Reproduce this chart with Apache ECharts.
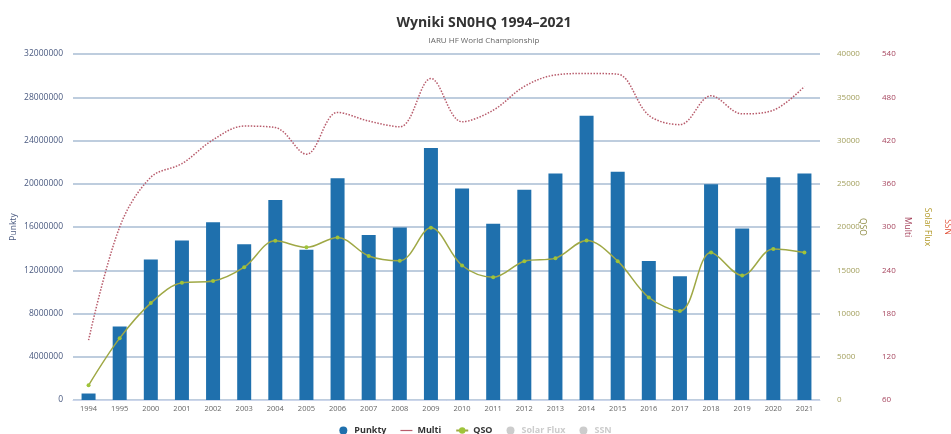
<!DOCTYPE html>
<html>
<head>
<meta charset="utf-8">
<script src="https://cdn.jsdelivr.net/npm/echarts@6/dist/echarts.min.js"></script>
<style>
  html, body { margin: 0; padding: 0; background: #fff; }
  #chart { width: 951px; height: 434px; }
</style>
</head>
<body>
<div id="chart"></div>
<script>
// lata startów
const years = ['1994', '1995', '2000', '2001', '2002', '2003', '2004', '2005', '2006', '2007', '2008', '2009',
  '2010', '2011', '2012', '2013', '2014', '2015', '2016', '2017', '2018', '2019', '2020', '2021'];

// punkty (słupki)
const punkty = [600000, 6800000, 13000000, 14750000, 16450000, 14400000, 18500000, 13900000, 20500000, 15250000, 15950000, 23300000,
  19550000, 16300000, 19450000, 20950000, 26300000, 21100000, 12850000, 11450000, 19950000, 15850000, 20600000, 20950000];

// liczba QSO
const qso = [1700, 7150, 11200, 13550, 13750, 15350, 18400, 17650, 18800, 16650, 16100, 19900,
  15550, 14200, 16050, 16400, 18450, 16050, 11850, 10300, 17050, 14400, 17450, 17050];

// mnożniki
const multi = [143, 300, 369, 388, 421, 440, 438, 401, 459, 447, 439, 506,
  446, 462, 495, 511, 513, 512, 455, 442, 482, 457, 462, 495];

// ukryte serie (wyłączone w legendzie)
const solarFlux = [];
const ssn = [];

const chart = echarts.init(document.getElementById('chart'));

const font = 'Open Sans';
const plain = (v) => String(v); // bez separatorów tysięcy

const option = {
  animation: false,
  textStyle: { fontFamily: font },
  title: {
    text: 'Wyniki SN0HQ 1994–2021',
    subtext: 'IARU HF World Championship',
    left: 479,
    top: 11,
    textAlign: 'center',
    itemGap: 7,
    textStyle: { fontFamily: font, fontSize: 14, fontWeight: 'bold', color: '#333' },
    subtextStyle: { fontFamily: font, fontSize: 8, color: '#666' }
  },
  legend: {
    left: 'center',
    top: 421,
    itemWidth: 12,
    itemHeight: 8,
    itemGap: 14,
    inactiveColor: '#ccc',
    textStyle: { fontFamily: font, fontSize: 9, fontWeight: 'bold', color: '#333' },
    data: [
      { name: 'Punkty', icon: 'circle' },
      { name: 'Multi', icon: 'path://M0,0h12v1.2h-12z' },
      { name: 'QSO' },
      { name: 'Solar Flux', icon: 'circle' },
      { name: 'SSN', icon: 'circle' }
    ],
    selected: { 'Solar Flux': false, 'SSN': false }
  },
  grid: { left: 73, right: 131, top: 54, bottom: 34, containLabel: false, outerBoundsMode: 'none' },
  xAxis: {
    type: 'category',
    data: years,
    axisLine: { show: true, lineStyle: { color: '#ccd6eb' } },
    axisTick: { show: false },
    axisLabel: { fontFamily: font, fontSize: 7.5, color: '#666', margin: 5 }
  },
  yAxis: [
    {
      type: 'value',
      name: 'Punkty',
      nameLocation: 'middle',
      nameGap: 55,
      nameMoveOverlap: false,
      nameTextStyle: { fontFamily: font, fontSize: 8.5, color: '#4a5a80' },
      min: 0, max: 32000000, interval: 4000000,
      axisLabel: { fontFamily: font, fontSize: 8.5, color: '#4a5a80', margin: 10, formatter: plain },
      splitLine: { lineStyle: { color: '#a9bcd3', width: 1.5 } }
    },
    {
      type: 'value',
      name: 'QSO',
      position: 'right',
      nameLocation: 'middle',
      nameRotate: -90,
      nameGap: 38,
      nameMoveOverlap: false,
      nameTextStyle: { fontFamily: font, fontSize: 8.5, color: '#8f8c45' },
      min: 0, max: 40000, interval: 5000,
      axisLabel: { fontFamily: font, fontSize: 8, color: '#a29f5c', margin: 17, formatter: plain },
      splitLine: { show: false }
    },
    {
      type: 'value',
      name: 'Multi',
      position: 'right',
      offset: 60,
      nameLocation: 'middle',
      nameRotate: -90,
      nameGap: 23,
      nameMoveOverlap: false,
      nameTextStyle: { fontFamily: font, fontSize: 8.5, color: '#a6455e' },
      min: 60, max: 540, interval: 60,
      axisLabel: { fontFamily: font, fontSize: 8, color: '#a6455e', margin: 2, formatter: plain },
      splitLine: { show: false }
    },
    {
      type: 'value',
      name: 'Solar Flux',
      position: 'right',
      offset: 100,
      nameLocation: 'middle',
      nameRotate: -90,
      nameGap: 3,
      nameMoveOverlap: false,
      nameTextStyle: { fontFamily: font, fontSize: 8.5, color: '#b39a2a' },
      min: 0, max: 1,
      axisLabel: { show: false },
      axisLine: { show: false },
      axisTick: { show: false },
      splitLine: { show: false }
    },
    {
      type: 'value',
      name: 'SSN',
      position: 'right',
      offset: 120,
      nameLocation: 'middle',
      nameRotate: -90,
      nameGap: 3,
      nameMoveOverlap: false,
      nameTextStyle: { fontFamily: font, fontSize: 8.5, color: '#e2553c' },
      min: 0, max: 1,
      axisLabel: { show: false },
      axisLine: { show: false },
      axisTick: { show: false },
      splitLine: { show: false }
    }
  ],
  series: [
    {
      name: 'Punkty',
      type: 'bar',
      yAxisIndex: 0,
      barWidth: 14,
      itemStyle: { color: '#1f70ad' },
      data: punkty
    },
    {
      name: 'Multi',
      type: 'line',
      yAxisIndex: 2,
      smooth: 0.35,
      symbol: 'none',
      lineStyle: { color: '#b85c6c', width: 1.5, type: 'dotted' },
      itemStyle: { color: '#b85c6c' },
      z: 4,
      data: multi
    },
    {
      name: 'QSO',
      type: 'line',
      yAxisIndex: 1,
      smooth: 0.35,
      symbol: 'circle',
      symbolSize: 4,
      lineStyle: { color: '#9fa845', width: 1.5 },
      itemStyle: { color: '#9fc43a' },
      z: 5,
      data: qso
    },
    {
      name: 'Solar Flux',
      type: 'line',
      yAxisIndex: 3,
      itemStyle: { color: '#c9b038' },
      data: solarFlux
    },
    {
      name: 'SSN',
      type: 'line',
      yAxisIndex: 4,
      itemStyle: { color: '#e2553c' },
      data: ssn
    }
  ]
};

chart.setOption(option);
</script>
</body>
</html>
